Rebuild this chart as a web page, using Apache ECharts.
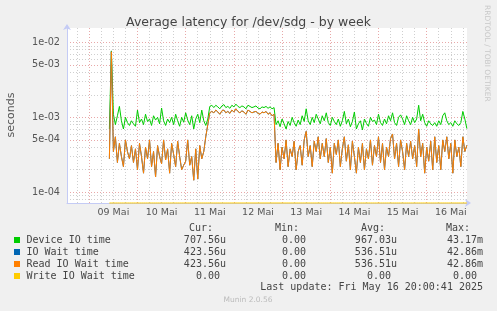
<!DOCTYPE html>
<html><head><meta charset="utf-8">
<script src="https://cdn.jsdelivr.net/npm/echarts@6/dist/echarts.min.js"></script>
<style>html,body{margin:0;padding:0;background:#f0f0f0}#c{width:497px;height:311px}</style>
</head><body><div id="c"></div><script>
const chartTitle = 'Average latency for /dev/sdg - by week';
const dayLabels = ['09 Mai','10 Mai','11 Mai','12 Mai','13 Mai','14 Mai','15 Mai','16 Mai'];
const dayLabelHours = [36,60,84,108,132,156,180,204];   // noon of each day, hours since 08 Mai 00:00
const midnightHours = [24,48,72,96,120,144,168,192];
const yMajor = [1e-4,5e-4,1e-3,5e-3,1e-2];
const yMinor = [8e-5,9e-5,2e-4,3e-4,4e-4,6e-4,7e-4,8e-4,9e-4,2e-3,3e-3,4e-3,6e-3,7e-3,8e-3,9e-3];
const startHour = 34; // first sample, hourly samples (values in microseconds)
const deviceIO = [
 700,7700,1100,800,1050,1400,900,700,1000,850,
 780,900,820,760,1250,850,950,800,1100,880,
 950,780,1050,920,1000,820,1330,900,780,950,
 850,1000,800,1100,900,760,1000,860,1150,920,
 800,1050,700,950,1100,850,1250,900,780,950,
 1400,
 1450,1350,1450,1380,1300,1420,1480,1350,1400,1320,
 1450,1380,1500,1400,1350,1420,1380,1300,1450,1400,
 1350,1380,1420,1330,1300,1380,1350,1400,1320,1380,
 1300,1350,
 800,900,750,950,820,700,880,780,1000,850,
 760,920,800,1050,880,1300,900,800,1000,850,
 1100,950,820,1050,900,1150,850,780,1000,880,
 800,950,760,900,1200,820,950,750,880,1180,
 700,820,900,680,950,830,760,1000,880,920,
 800,1100,850,780,950,820,1050,900,1150,850,
 780,1000,1080,950,800,1050,900,800,1000,850,
 950,1450,900,1100,850,760,900,820,780,850,
 760,900,800,1050,1150,900,800,850,760,900,
 820,780,850,1200,950,708
];
const readIOWait = [
 280,7500,350,550,250,450,300,220,500,350,
 280,420,250,380,200,450,300,180,400,280,
 500,220,350,160,420,300,240,500,270,380,
 180,450,320,220,480,300,200,230,260,500,
 230,300,145,380,150,420,280,350,550,800,
 1150,
 1200,1150,1250,1180,1100,1220,1250,1150,1200,1130,
 1250,1180,1300,1200,1150,1220,1180,1100,1250,1200,
 1150,1180,1200,1130,1100,1180,1150,1200,1100,1150,
 1050,1100,
 250,450,200,400,280,500,220,380,300,480,
 200,350,420,230,500,650,300,420,220,480,
 350,550,280,450,300,520,250,400,180,450,
 320,500,220,380,550,260,430,200,480,300,
 180,400,250,450,200,380,280,500,230,420,
 300,550,250,450,200,400,300,520,600,280,
 450,220,500,350,200,450,300,480,280,420,
 220,700,300,450,180,400,260,480,200,550,
 250,420,200,500,350,550,280,450,180,500,
 300,400,220,550,350,424
];
const ioWait = readIOWait.slice();          // identical to Read IO Wait (same legend stats)
const writeIOWait = readIOWait.map(() => 0); // all zero

const seriesNames = ['Device IO time','IO Wait time','Read IO Wait time','Write IO Wait time'];
const seriesColors = ['#00cc00','#0066b3','#ff8000','#ffcc00'];
const curVals = ['707.56u','423.56u','423.56u','0.00 '];
const minVals = ['0.00 ','0.00 ','0.00 ','0.00 '];
const avgVals = ['967.03u','536.51u','536.51u','0.00 '];
const maxVals = ['43.17m','42.86m','42.86m','0.00 '];
const lastUpdate = 'Last update: Fri May 16 20:00:41 2025';

const X_MIN = 12.9, X_MAX = 212.07;
const Y_MIN = 7.2e-5, Y_MAX = 1.556e-2;

const minorHours = [];
for (let h = 18; h < X_MAX; h += 6) if (h % 24 !== 0) minorHours.push(h);

function toPairs(arr, scale) { return arr.map((v, i) => [startHour + i, v * scale]); }
function expFmt(v) {
  const e = Math.floor(Math.log10(v) + 1e-9);
  const m = Math.round(v / Math.pow(10, e));
  const ae = Math.abs(e);
  return m + 'e' + (e < 0 ? '-' : '+') + (ae < 10 ? '0' + ae : ae);
}

const gridLeft = 67, gridTop = 28, gridRight = 497 - 467, gridBottom = 311 - 203;
const axisBlue = '#c4cbf5';
const redGrid = { show: true, lineStyle: { color: '#e8a8a8', type: [1, 2], width: 1 } };
const grayGrid = { show: true, lineStyle: { color: '#cfcfcf', type: [1, 2], width: 1 } };

const mono = '10px "DejaVu Sans Mono"';
const graphics = [];
graphics.push({ type: 'text', style: { text: 'RRDTOOL / TOBI OETIKER', x: 0, y: 0, fill: '#c8c8c8', font: '7.5px "DejaVu Sans"', align: 'left', verticalAlign: 'middle' }, x: 487, y: 5, rotation: -Math.PI / 2 });
graphics.push({ type: 'text', style: { text: 'seconds', x: 0, y: 0, fill: '#555', font: '11px "DejaVu Sans"', align: 'center', verticalAlign: 'middle' }, x: 11, y: 115, rotation: Math.PI / 2 });
const headers = [['Cur:', 213], ['Min:', 299], ['Avg:', 385], ['Max:', 470]];
headers.forEach(([t, x]) => graphics.push({ type: 'text', style: { text: t, x: x, y: 228, fill: '#444', font: mono, align: 'right', verticalAlign: 'middle' } }));
const cols = [[curVals, 226], [minVals, 312], [avgVals, 397], [maxVals, 483]];
seriesNames.forEach((name, i) => {
  const y = 240 + i * 12;
  graphics.push({ type: 'rect', shape: { x: 14, y: y - 3, width: 6, height: 6 }, style: { fill: seriesColors[i] } });
  graphics.push({ type: 'text', style: { text: name, x: 26.5, y: y, fill: '#444', font: mono, align: 'left', verticalAlign: 'middle' } });
  cols.forEach(([vals, x]) => graphics.push({ type: 'text', style: { text: vals[i], x: x, y: y, fill: '#444', font: mono, align: 'right', verticalAlign: 'middle' } }));
});
graphics.push({ type: 'text', style: { text: lastUpdate, x: 483, y: 287.5, fill: '#444', font: mono, align: 'right', verticalAlign: 'middle' } });
graphics.push({ type: 'text', style: { text: 'Munin 2.0.56', x: 248, y: 300.5, fill: '#bbbbbb', font: '7.5px "DejaVu Sans"', align: 'center', verticalAlign: 'middle' } });

const chart = echarts.init(document.getElementById('c'), null, { renderer: 'canvas' });
chart.setOption({
  animation: false,
  backgroundColor: '#f0f0f0',
  title: { text: chartTitle, left: 'center', top: 11, textStyle: { fontFamily: 'DejaVu Sans', fontSize: 12.5, fontWeight: 'normal', color: '#444' } },
  grid: { left: gridLeft, top: gridTop, right: gridRight, bottom: gridBottom, show: true, backgroundColor: '#ffffff', borderWidth: 0, containLabel: false },
  xAxis: [
    { type: 'value', min: X_MIN, max: X_MAX, position: 'bottom',
      axisLine: { show: true, lineStyle: { color: axisBlue, width: 1 }, symbol: ['none', 'arrow'], symbolSize: [6, 6], symbolOffset: [0, 4] },
      axisTick: { show: false, customValues: midnightHours },
      splitLine: redGrid,
      axisLabel: { customValues: dayLabelHours, formatter: v => dayLabels[dayLabelHours.indexOf(Math.round(v))] || '', fontFamily: 'DejaVu Sans', fontSize: 9.5, color: '#555', margin: 5 } },
    { type: 'value', min: X_MIN, max: X_MAX, position: 'bottom', show: true,
      axisLine: { show: false }, axisTick: { show: false, customValues: minorHours }, axisLabel: { show: false },
      splitLine: grayGrid }
  ],
  yAxis: [
    { type: 'log', min: Y_MIN, max: Y_MAX, logBase: 10,
      axisLine: { show: true, lineStyle: { color: axisBlue, width: 1 }, symbol: ['none', 'arrow'], symbolSize: [6, 6], symbolOffset: [0, 4] },
      axisTick: { show: false, customValues: yMajor },
      splitLine: redGrid, z: 3,
      axisLabel: { customValues: yMajor, formatter: expFmt, fontFamily: 'DejaVu Sans', fontSize: 9.7, color: '#555', margin: 7 } },
    { type: 'log', min: Y_MIN, max: Y_MAX, logBase: 10,
      axisLine: { show: false }, axisTick: { show: false, customValues: yMinor }, axisLabel: { show: false },
      splitLine: grayGrid },
    { type: 'value', min: 0, max: 1, show: false, splitLine: { show: false } }
  ],
  series: [
    { name: seriesNames[0], type: 'line', xAxisIndex: 0, yAxisIndex: 0, data: toPairs(deviceIO, 1e-6), showSymbol: false, symbol: 'none', lineStyle: { color: seriesColors[0], width: 1 }, z: 5 },
    { name: seriesNames[1], type: 'line', xAxisIndex: 0, yAxisIndex: 0, data: toPairs(ioWait, 1e-6), showSymbol: false, symbol: 'none', lineStyle: { color: seriesColors[1], width: 1 }, z: 6 },
    { name: seriesNames[2], type: 'line', xAxisIndex: 0, yAxisIndex: 0, data: toPairs(readIOWait, 1e-6), showSymbol: false, symbol: 'none', lineStyle: { color: seriesColors[2], width: 1 }, z: 7 },
    { name: seriesNames[3], type: 'line', xAxisIndex: 0, yAxisIndex: 2, data: toPairs(writeIOWait, 1), showSymbol: false, symbol: 'none', lineStyle: { color: seriesColors[3], width: 1 }, z: 8, clip: false }
  ],
  graphic: graphics
});
</script></body></html>
